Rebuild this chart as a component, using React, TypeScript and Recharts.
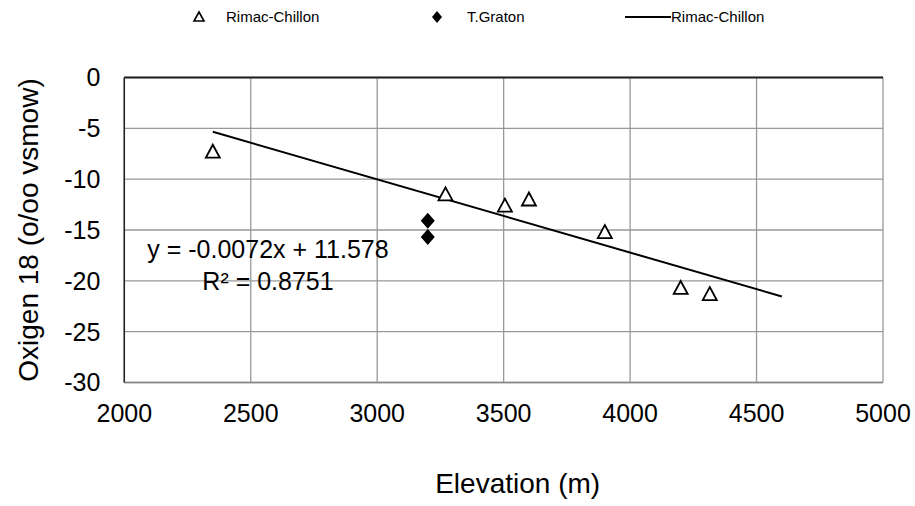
import React from 'react';
import { ScatterChart, Scatter, XAxis, YAxis, CartesianGrid, ReferenceLine } from 'recharts';

// Rimac-Chillon samples (elevation m, oxygen-18 o/oo)
const rimacElev = [2350, 3270, 3505, 3600, 3900, 4200, 4315];
const rimacO18 = [-7.3, -11.5, -12.6, -12.0, -15.2, -20.7, -21.3];

// T.Graton samples
const gratonElev = [3200, 3200];
const gratonO18 = [-14.1, -15.7];

// trend line end points (y = -0.0072x + 11.578)
const trendElev = [2350, 4600];
const trendO18 = [-5.34, -21.54];

const xTicks = [2000, 2500, 3000, 3500, 4000, 4500, 5000];
const yTicks = [0, -5, -10, -15, -20, -25, -30];

const rimacData = rimacElev.map((x, i) => ({ x, y: rimacO18[i] }));
const gratonData = gratonElev.map((x, i) => ({ x, y: gratonO18[i] }));
const trendData = trendElev.map((x, i) => ({ x, y: trendO18[i] }));

const FONT = '"Liberation Sans", Arial, sans-serif';

const Triangle = (props: any) => {
  const { cx, cy } = props;
  return (
    <path
      d={`M${cx},${cy - 7} L${cx + 7},${cy + 6} L${cx - 7},${cy + 6} Z`}
      fill="#fff"
      stroke="#000"
      strokeWidth={1.8}
    />
  );
};

const Diamond = (props: any) => {
  const { cx, cy } = props;
  return <path d={`M${cx},${cy - 8} L${cx + 7},${cy} L${cx},${cy + 8} L${cx - 7},${cy} Z`} fill="#000" />;
};

const Nothing = () => <g />;

export default function App() {
  // fixed at the page corner so nothing scrolls
  return (
    <div style={{ position: 'fixed', left: 0, top: 0, width: 915, height: 506, fontFamily: FONT, background: '#fff' }}>
      {/* legend */}
      <div style={{ position: 'absolute', left: 0, top: 8, width: 915, height: 30, fontSize: 15, color: '#000' }}>
        <svg width={16} height={16} style={{ position: 'absolute', left: 191, top: 1 }}>
          <path d="M8,3 L13,12 L3,12 Z" fill="#fff" stroke="#000" strokeWidth={1.6} />
        </svg>
        <span style={{ position: 'absolute', left: 226, top: 0 }}>Rimac-Chillon</span>
        <svg width={16} height={16} style={{ position: 'absolute', left: 429, top: 1 }}>
          <path d="M8,2 L13,8 L8,14 L3,8 Z" fill="#000" />
        </svg>
        <span style={{ position: 'absolute', left: 467, top: 0 }}>T.Graton</span>
        <div style={{ position: 'absolute', left: 625, top: 8, width: 46, height: 2, background: '#000' }} />
        <span style={{ position: 'absolute', left: 671, top: 0 }}>Rimac-Chillon</span>
      </div>

      <ScatterChart width={915} height={506} margin={{ top: 77.5, right: 32, bottom: 0, left: 0 }}>
        <CartesianGrid stroke="#999" strokeWidth={1.3} />
        <XAxis
          type="number"
          dataKey="x"
          domain={[2000, 5000]}
          ticks={xTicks}
          height={123.5}
          axisLine={{ stroke: '#888', strokeWidth: 1.5 }}
          tickLine={false}
          tickMargin={16}
          tick={{ fill: '#000', fontSize: 25, fontFamily: FONT }}
          label={{ value: 'Elevation (m)', position: 'insideBottom', offset: 13, dx: 14, fill: '#000', fontSize: 28, fontFamily: FONT }}
        />
        <YAxis
          type="number"
          dataKey="y"
          domain={[-30, 0]}
          ticks={yTicks}
          width={124.3}
          axisLine={{ stroke: '#222', strokeWidth: 1.5 }}
          tickLine={false}
          tickMargin={18}
          tick={{ fill: '#000', fontSize: 25, fontFamily: FONT }}
          label={{ value: 'Oxigen 18 (o/oo vsmow)', angle: -90, position: 'insideLeft', offset: 28, textAnchor: 'middle', fill: '#000', fontSize: 28, fontFamily: FONT }}
        />
        <ReferenceLine y={0} stroke="#222" strokeWidth={2} />
        <Scatter data={trendData} line={{ stroke: '#000', strokeWidth: 2 }} shape={Nothing} isAnimationActive={false} />
        <Scatter data={rimacData} shape={Triangle} isAnimationActive={false} />
        <Scatter data={gratonData} shape={Diamond} isAnimationActive={false} />
      </ScatterChart>

      {/* trend line equation */}
      <div
        style={{
          position: 'absolute',
          left: 68,
          top: 233,
          width: 400,
          textAlign: 'center',
          fontSize: 25,
          lineHeight: '32px',
          color: '#000',
          whiteSpace: 'nowrap',
        }}
      >
        <div>y = -0.0072x + 11.578</div>
        <div>R² = 0.8751</div>
      </div>
    </div>
  );
}
